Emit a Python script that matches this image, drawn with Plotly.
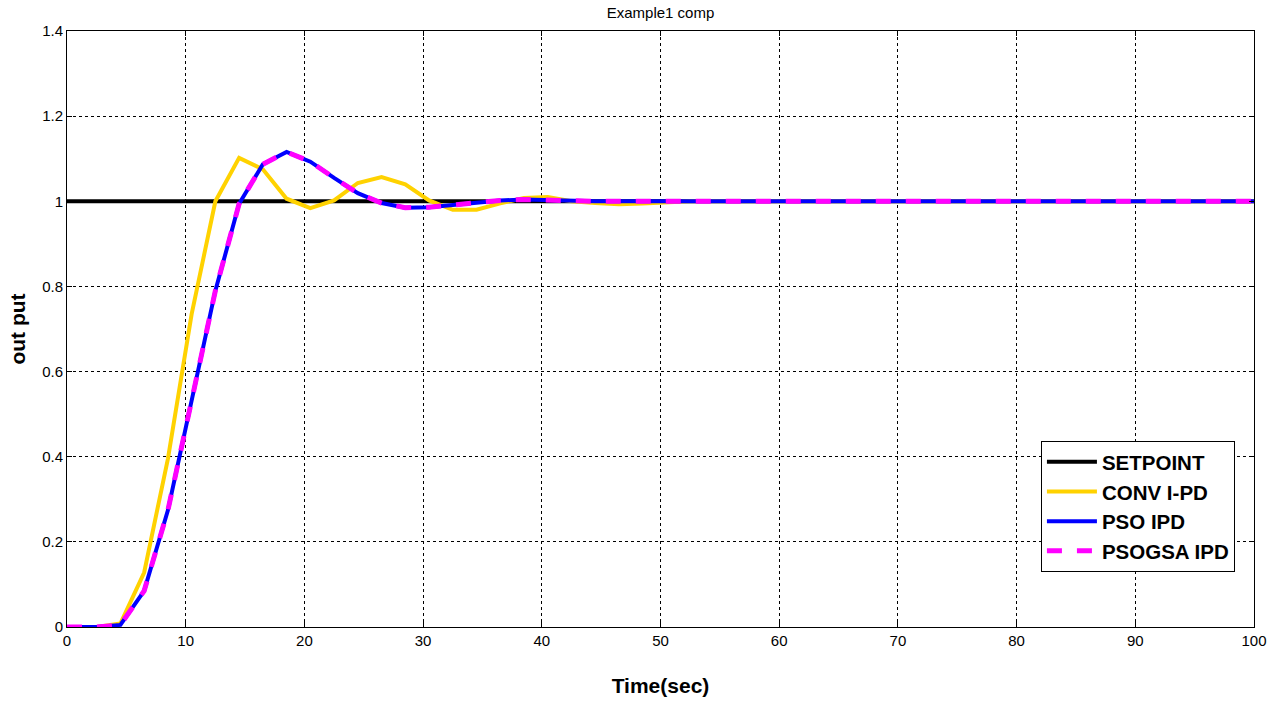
import plotly.graph_objects as go

# time samples (sec)
time_s = [0, 2.5, 4.5, 6.5, 8.5, 10.5, 12.5, 14.5, 16.5, 18.5, 20.5, 22.5, 24.5, 26.5,
          28.5, 30.5, 32.5, 34.5, 36.5, 38.5, 40.5, 42.5, 44.5, 46.5, 48.5, 50.5, 52.5,
          54.5, 56.5, 58.5, 60.5, 62.5, 64.5, 66.5, 68.5, 70.5, 72.5, 74.5, 76.5, 78.5,
          80.5, 82.5, 84.5, 86.5, 88.5, 90.5, 92.5, 94.5, 96.5, 98.5, 100]

setpoint_t = [0, 100]
setpoint_y = [1, 1]

conv_ipd = [0, 0, 0.008, 0.128, 0.395, 0.735, 1.0, 1.102, 1.075, 1.006, 0.984, 1.002,
            1.043, 1.057, 1.04, 1.002, 0.98, 0.98, 0.995, 1.008, 1.01, 1.0, 0.996, 0.993,
            0.995, 0.998, 1.0, 1.0, 1.0, 1.0, 1.0, 1.0, 1.0, 1.0, 1.0, 1.0, 1.0, 1.0, 1.0,
            1.0, 1.0, 1.0, 1.0, 1.0, 1.0, 1.0, 1.0, 1.0, 1.0, 1.0, 1.0]

pso_ipd = [0, 0, 0.005, 0.085, 0.274, 0.53, 0.79, 0.994, 1.087, 1.116, 1.093, 1.055,
           1.019, 0.996, 0.985, 0.986, 0.992, 0.998, 1.002, 1.004, 1.002, 1.0, 1.0, 1.0,
           1.0, 1.0, 1.0, 1.0, 1.0, 1.0, 1.0, 1.0, 1.0, 1.0, 1.0, 1.0, 1.0, 1.0, 1.0,
           1.0, 1.0, 1.0, 1.0, 1.0, 1.0, 1.0, 1.0, 1.0, 1.0, 1.0, 1.0]

psogsa_ipd = [0, 0, 0.005, 0.085, 0.274, 0.53, 0.79, 0.994, 1.087, 1.116, 1.093, 1.055,
              1.019, 0.996, 0.985, 0.986, 0.992, 0.998, 1.002, 1.004, 1.002, 1.0, 1.0, 1.0,
              1.0, 1.0, 1.0, 1.0, 1.0, 1.0, 1.0, 1.0, 1.0, 1.0, 1.0, 1.0, 1.0, 1.0, 1.0,
              1.0, 1.0, 1.0, 1.0, 1.0, 1.0, 1.0, 1.0, 1.0, 1.0, 1.0, 1.0]

x_ticks = [0, 10, 20, 30, 40, 50, 60, 70, 80, 90, 100]
y_ticks = [0, 0.2, 0.4, 0.6, 0.8, 1, 1.2, 1.4]
y_tick_labels = ["0", "0.2", "0.4", "0.6", "0.8", "1", "1.2", "1.4"]

FONT = "Arial, Liberation Sans, Helvetica, sans-serif"

fig = go.Figure()
fig.add_trace(go.Scatter(x=setpoint_t, y=setpoint_y, mode="lines", name="<b>SETPOINT</b>",
                         legendgroup="a", line=dict(color="black", width=4)))
fig.add_trace(go.Scatter(x=time_s, y=conv_ipd, mode="lines", name="<b>CONV I-PD</b>",
                         legendgroup="b", line=dict(color="#FFD200", width=4)))
fig.add_trace(go.Scatter(x=time_s, y=pso_ipd, mode="lines", name="<b>PSO IPD</b>",
                         legendgroup="c", line=dict(color="#0000FF", width=4)))
fig.add_trace(go.Scatter(x=time_s, y=psogsa_ipd, mode="lines", name="<b>PSOGSA IPD</b>",
                         legendgroup="d", line=dict(color="#FF00FF", width=5, dash="dash")))

axis_common = dict(
    showline=True, linecolor="black", linewidth=1, mirror="allticks",
    ticks="inside", ticklen=5, tickcolor="black",
    showgrid=True, gridcolor="black", gridwidth=1, griddash="dot",
    zeroline=False, tickfont=dict(family=FONT, size=15, color="black"),
)

fig.update_xaxes(range=[0, 100], tickvals=x_ticks, **axis_common,
                 title=dict(text="<b>Time(sec)</b>", font=dict(family=FONT, size=21, color="black"),
                            standoff=30))
fig.update_yaxes(range=[0, 1.4], tickvals=y_ticks, ticktext=y_tick_labels, **axis_common,
                 title=dict(text="<b>out put</b>", font=dict(family=FONT, size=21, color="black"),
                            standoff=10))

fig.update_layout(
    width=1284, height=706,
    margin=dict(l=67, r=30, t=31, b=79),
    paper_bgcolor="white", plot_bgcolor="white",
    title=dict(text="Example1 comp", x=0.5, xref="paper", xanchor="center",
               y=0.982, yanchor="middle", font=dict(family=FONT, size=15, color="black")),
    showlegend=True,
    legend=dict(x=0.8205, y=0.312, xanchor="left", yanchor="top",
                bgcolor="white", bordercolor="black", borderwidth=1,
                font=dict(family=FONT, size=20.5, color="black"),
                itemwidth=50, tracegroupgap=0, traceorder="grouped"),
)

fig.write_html("out.html")
